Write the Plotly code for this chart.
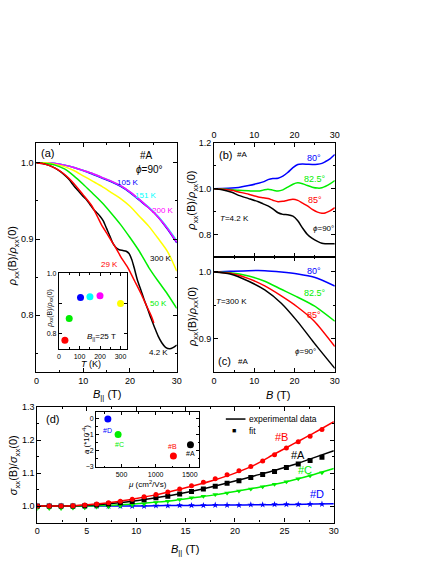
import plotly.graph_objects as go

FONT = 'Liberation Sans, Arial, sans-serif'
W, H = 436, 564

# ---- panel (a): rho(B)/rho(0) vs B at different T ----
b_42k = [0, 2, 4, 5, 6, 7, 8, 9, 10, 10.8, 11.5, 12.2, 13, 13.6, 14.3, 15, 15.7, 16.4, 17, 17.7,
         18.5, 19.2, 19.8, 20.4, 21, 21.6, 22.4, 23, 23.8, 24.5, 25.2, 26, 26.8, 27.6, 28.5, 29.3, 30]
r_42k = [1.000, 0.998, 0.993, 0.989, 0.984, 0.978, 0.970, 0.963, 0.956, 0.951, 0.945, 0.939, 0.934,
         0.930, 0.924, 0.914, 0.904, 0.894, 0.889, 0.886, 0.885, 0.884, 0.881, 0.873, 0.860, 0.846,
         0.832, 0.821, 0.808, 0.796, 0.785, 0.773, 0.764, 0.758, 0.756, 0.758, 0.761]
b_29k = [0, 2, 4, 6, 8, 10, 11.8, 13, 13.9, 15, 16.1, 17, 18.2, 19.6, 21, 22.4, 23.5, 24.5, 25.1]
r_29k = [1.000, 0.998, 0.993, 0.985, 0.973, 0.958, 0.944, 0.930, 0.919, 0.908, 0.897, 0.888, 0.875,
         0.862, 0.845, 0.828, 0.813, 0.800, 0.790]
b_std = [0, 2, 4, 6, 8, 10, 12, 14, 16, 18, 20, 22, 24, 26, 28, 30]
r_50k = [1.000, 0.999, 0.997, 0.992, 0.983, 0.972, 0.960, 0.948, 0.934, 0.919, 0.902, 0.884, 0.863,
         0.845, 0.828, 0.809]
r_300k = [1.000, 1.000, 0.998, 0.995, 0.990, 0.983, 0.976, 0.969, 0.961, 0.953, 0.943, 0.930,
          0.917, 0.901, 0.884, 0.858]
r_105k = [1.000, 1.000, 0.999, 0.997, 0.994, 0.990, 0.985, 0.980, 0.975, 0.969, 0.961, 0.951,
          0.941, 0.929, 0.913, 0.895]
r_151k = [1.000, 1.000, 0.999, 0.997, 0.994, 0.990, 0.986, 0.981, 0.976, 0.970, 0.962, 0.952,
          0.942, 0.930, 0.915, 0.898]
r_200k = [1.000, 1.000, 0.999, 0.997, 0.994, 0.990, 0.986, 0.981, 0.976, 0.970, 0.962, 0.952,
          0.941, 0.929, 0.914, 0.896]

# inset (a): rho(25 T)/rho(0) vs T
inset_t = [29, 50, 105, 151, 200, 300]
inset_r = [0.777, 0.849, 0.919, 0.922, 0.925, 0.899]
inset_c = ['#ff0000', '#00ee00', '#0000ff', '#00ffff', '#ff00ff', '#ffff00']

# ---- panel (b): T = 4.2 K, different angles ----
b_b = [0, 2, 4.4, 6.1, 8.6, 11, 12.2, 13.4, 14.6, 15.9, 17.1, 18.3, 19.6, 20.8, 22, 23.2, 24.4,
       25.7, 26.8, 27.6, 28.8, 30]
b80 = [1.000, 1.001, 1.003, 1.006, 1.014, 1.024, 1.030, 1.040, 1.045, 1.046, 1.055, 1.071, 1.092,
       1.106, 1.108, 1.107, 1.106, 1.107, 1.111, 1.118, 1.131, 1.150]
b825 = [1.000, 0.999, 0.996, 0.993, 0.991, 0.990, 0.994, 0.998, 0.994, 0.990, 0.995, 1.007, 1.020,
        1.026, 1.022, 1.014, 1.007, 1.003, 1.004, 1.010, 1.021, 1.036]
b85 = [1.000, 0.998, 0.993, 0.986, 0.976, 0.964, 0.961, 0.957, 0.950, 0.943, 0.945, 0.950, 0.954,
       0.949, 0.937, 0.925, 0.910, 0.898, 0.893, 0.894, 0.903, 0.917]
b90 = [1.000, 0.996, 0.985, 0.971, 0.957, 0.943, 0.934, 0.925, 0.912, 0.895, 0.888, 0.886, 0.880,
       0.860, 0.828, 0.800, 0.783, 0.770, 0.762, 0.760, 0.759, 0.760]

# ---- panel (c): T = 300 K, different angles ----
b_c = [0, 4, 8.6, 12.6, 16.7, 20.8, 24.9, 30]
c80 = [1.000, 1.001, 1.002, 1.002, 1.000, 0.997, 0.992, 0.979]
c825 = [1.000, 0.999, 0.994, 0.986, 0.974, 0.962, 0.949, 0.926]
c85 = [1.000, 0.998, 0.990, 0.979, 0.964, 0.947, 0.926, 0.888]
c90 = [1.000, 0.997, 0.986, 0.973, 0.953, 0.925, 0.893, 0.855]

# ---- panel (d): sigma(B)/sigma(0), data lines and fit points ----
b_d = [0, 2, 4, 6, 8, 10, 12, 14, 16, 18, 20, 22, 24, 26, 28, 30]
d_b = [1.000, 1.000, 1.002, 1.006, 1.013, 1.023, 1.034, 1.048, 1.063, 1.080, 1.100, 1.125, 1.158,
       1.190, 1.222, 1.256]
d_a = [1.000, 1.000, 1.001, 1.004, 1.009, 1.016, 1.025, 1.035, 1.047, 1.061, 1.076, 1.092, 1.108,
       1.126, 1.147, 1.168]
d_c = [1.000, 1.000, 1.000, 1.001, 1.003, 1.007, 1.012, 1.018, 1.026, 1.034, 1.044, 1.055, 1.066,
       1.080, 1.096, 1.114]
d_d = [1.000, 1.000, 1.000, 1.000, 1.000, 1.000, 1.001, 1.002, 1.002, 1.003, 1.003, 1.004, 1.004,
       1.005, 1.006, 1.007]

b_fit = [0, 1.2, 2.4, 3.6, 4.8, 6.0, 7.2, 8.4, 9.6, 10.8, 12.0, 13.2, 14.4, 15.6, 16.8, 18.0, 19.2,
         20.4, 21.6, 22.8, 24.0, 25.2, 26.4, 27.6, 28.8]
fit_b = [1.000, 1.000, 1.000, 1.001, 1.003, 1.006, 1.010, 1.015, 1.021, 1.028, 1.035, 1.043, 1.052,
         1.062, 1.072, 1.083, 1.095, 1.107, 1.120, 1.137, 1.156, 1.176, 1.195, 1.212, 1.232]
fit_a = [1.000, 1.000, 1.000, 1.000, 1.001, 1.003, 1.006, 1.010, 1.014, 1.019, 1.025, 1.030, 1.037,
         1.044, 1.052, 1.060, 1.069, 1.077, 1.087, 1.096, 1.105, 1.117, 1.128, 1.138, 1.148]
fit_c = [0.993, 0.993, 0.993, 0.994, 0.995, 0.997, 0.998, 1.000, 1.003, 1.006, 1.011, 1.015, 1.020,
         1.025, 1.030, 1.035, 1.040, 1.046, 1.052, 1.059, 1.066, 1.074, 1.083, 1.092, 1.101]
fit_d = [1.000, 1.000, 1.000, 1.000, 1.000, 1.000, 1.000, 1.000, 1.000, 1.000, 1.001, 1.001, 1.002,
         1.002, 1.002, 1.003, 1.003, 1.003, 1.004, 1.004, 1.005, 1.005, 1.005, 1.006, 1.006]

# inset (d): coefficient a vs mobility
mu_vals = [300, 450, 1260, 1510]
a_vals = [-0.05, -1.02, -2.35, -1.65]
mu_names = ['#D', '#C', '#B', '#A']
mu_cols = ['#0000ff', '#00ee00', '#ff0000', '#000000']

BLUE, CYAN, MAG, YEL, GRN, RED, BLK = '#0000ff', '#00ffff', '#ff00ff', '#ffff00', '#00ee00', '#ff0000', '#000000'


def px(x):
    return x / W


def py(y):
    return 1 - y / H


fig = go.Figure()


def line(x, y, color, xa, ya, width=1.5):
    fig.add_trace(go.Scatter(x=x, y=y, mode='lines', xaxis=xa, yaxis=ya, showlegend=False,
                             line=dict(color=color, width=width, shape='spline', smoothing=0.7)))


# (a)
line(b_std, r_105k, BLUE, 'x', 'y')
line(b_std, r_151k, CYAN, 'x', 'y')
line(b_std, r_200k, MAG, 'x', 'y')
line(b_std, r_300k, YEL, 'x', 'y')
line(b_std, r_50k, GRN, 'x', 'y')
line(b_42k, r_42k, BLK, 'x', 'y')
line(b_29k, r_29k, RED, 'x', 'y')

fig.add_trace(go.Scatter(x=inset_t, y=inset_r, mode='markers', xaxis='x2', yaxis='y2', showlegend=False,
                         marker=dict(color=inset_c, size=7)))

# (b)
line(b_b, b80, BLUE, 'x3', 'y3')
line(b_b, b825, GRN, 'x3', 'y3')
line(b_b, b85, RED, 'x3', 'y3')
line(b_b, b90, BLK, 'x3', 'y3')

# (c)
line(b_c, c80, BLUE, 'x4', 'y4')
line(b_c, c825, GRN, 'x4', 'y4')
line(b_c, c85, RED, 'x4', 'y4')
line(b_c, c90, BLK, 'x4', 'y4')

# (d)
for yv, col in [(d_d, BLUE), (d_c, GRN), (d_a, BLK), (d_b, RED)]:
    line(b_d, yv, col, 'x5', 'y5')
for yv, col, sym in [(fit_d, BLUE, 'star'), (fit_c, GRN, 'triangle-down'), (fit_a, BLK, 'square'),
                     (fit_b, RED, 'circle')]:
    fig.add_trace(go.Scatter(x=b_fit, y=yv, mode='markers', xaxis='x5', yaxis='y5', showlegend=False,
                             marker=dict(color=col, symbol=sym, size=5)))

fig.add_trace(go.Scatter(x=mu_vals, y=a_vals, mode='markers', xaxis='x6', yaxis='y6', showlegend=False,
                         marker=dict(color=mu_cols, size=7)))

tickfont = dict(family=FONT, size=9, color='black')
small_tick = dict(family=FONT, size=7, color='black')


def ax(domain, rng, font=tickfont, **kw):
    d = dict(domain=domain, range=rng, showline=True, linecolor='black', linewidth=1.2,
             mirror='ticks', ticks='inside', ticklen=4, tickwidth=1, tickcolor='black',
             showgrid=False, zeroline=False, tickfont=font)
    d.update(kw)
    return d


def minor(dt, ln=2):
    return dict(ticks='inside', ticklen=ln, dtick=dt, tickcolor='black', showgrid=False)


fig.update_layout(
    width=W, height=H,
    margin=dict(l=0, r=0, t=0, b=0),
    paper_bgcolor='white', plot_bgcolor='rgba(0,0,0,0)',
    font=dict(family=FONT, size=10, color='black'),
    showlegend=False,
    xaxis=ax([px(34), px(177)], [0, 30], anchor='y', dtick=10, minor=minor(5)),
    yaxis=ax([py(372), py(140)], [0.726, 1.026], anchor='x', dtick=0.1, tickformat='.1f', minor=minor(0.05)),
    xaxis2=ax([px(57), px(126)], [0, 330], small_tick, anchor='y2', dtick=100, ticklen=3, minor=minor(50, 1.5)),
    yaxis2=ax([py(349), py(272)], [0.748, 1.0], small_tick, anchor='x2', tickvals=[0.8, 0.9, 1.0],
              ticktext=['0.8', '', '1.0'], ticklen=3),
    xaxis3=ax([px(215), px(338)], [0, 30], anchor='y3', side='top', dtick=10, minor=minor(5)),
    yaxis3=ax([py(256), py(140)], [0.7, 1.2], anchor='x3', tickvals=[0.8, 1.0, 1.2], tickformat='.1f',
              minor=minor(0.1)),
    xaxis4=ax([px(215), px(338)], [0, 30], anchor='y4', dtick=10, minor=minor(5)),
    yaxis4=ax([py(372), py(256)], [0.85, 1.022], anchor='x4', tickvals=[0.9, 1.0], tickformat='.1f',
              minor=minor(0.05)),
    xaxis5=ax([px(35), px(337)], [0, 30], anchor='y5', dtick=5, minor=minor(2.5)),
    yaxis5=ax([py(525), py(408)], [0.95, 1.3], anchor='x5', dtick=0.1, tickformat='.1f', minor=minor(0.05)),
    xaxis6=ax([px(95), px(200)], [130, 1640], small_tick, anchor='y6', tickvals=[500, 1000, 1500], ticklen=3,
              minor=minor(250, 1.5)),
    yaxis6=ax([py(469), py(413)], [-3.05, 0.37], small_tick, anchor='x6', dtick=1, ticklen=3,
              minor=minor(0.5, 1.5)),
)

ann = []


def txt(x, y, s, xa, ya, color='black', size=9, xanchor='center'):
    ann.append(dict(x=x, y=y, text=s, xref=xa, yref=ya, showarrow=False, xanchor=xanchor, yanchor='middle',
                    font=dict(family=FONT, size=size, color=color)))


def ptxt(x, y, s, size=11, angle=0, xanchor='center'):
    ann.append(dict(x=px(x), y=py(y), text=s, xref='paper', yref='paper', showarrow=False,
                    textangle=angle, xanchor=xanchor, yanchor='middle',
                    font=dict(family=FONT, size=size, color='black')))


rho = '<i>ρ</i><sub>xx</sub>(B)/<i>ρ</i><sub>xx</sub>(0)'
sig = '<i>σ</i><sub>xx</sub>(B)/<i>σ</i><sub>xx</sub>(0)'
bpar = '<i>B</i><sub>||</sub> (T)'

# axis titles
ptxt(11, 255, rho, 11, -90)
ptxt(193, 198, rho, 11, -90)
ptxt(193, 316, rho, 11, -90)
ptxt(12, 467, sig, 11, -90)
ptxt(106, 396, bpar, 11)
ptxt(280, 396, '<i>B</i> (T)', 11)
ptxt(185, 553, bpar, 11)
ptxt(90, 364, '<i>T</i> (K)', 9)
ptxt(47, 308, rho, 7, -90)
ptxt(147, 486, '<i>μ</i> (cm<sup>2</sup>/Vs)', 8)
ptxt(84, 441, '<i>a</i> (*10<sup>-4</sup>)', 8, -90)

# legend of (d)
fig.add_shape(type='line', xref='paper', yref='paper', x0=px(227), x1=px(247), y0=py(420), y1=py(420),
              line=dict(color='black', width=1.5))
ptxt(249, 420, 'experimental data', 8.5, xanchor='left')
ptxt(235, 432, '■', 7)
ptxt(249, 432, 'fit', 8.5, xanchor='left')

# (a) labels
txt(2.3, 1.013, '(a)', 'x', 'y', size=11)
txt(23.5, 1.009, '#A', 'x', 'y', size=10)
txt(24.1, 0.991, '<i>ϕ</i>=90°', 'x', 'y', size=10)
txt(19.6, 0.974, '105 K', 'x', 'y', BLUE, 8)
txt(23.5, 0.957, '151 K', 'x', 'y', CYAN, 8)
txt(27.0, 0.938, '200 K', 'x', 'y', MAG, 8)
txt(26.6, 0.874, '300 K', 'x', 'y', BLK, 8)
txt(15.6, 0.867, '29 K', 'x', 'y', RED, 8)
txt(26.2, 0.815, '50 K', 'x', 'y', GRN, 8)
txt(26.0, 0.751, '4.2 K', 'x', 'y', BLK, 8)
txt(208, 0.787, '<i>B</i><sub>||</sub>=25 T', 'x2', 'y2', size=8)

# (b) labels
txt(2.9, 1.149, '(b)', 'x3', 'y3', size=11)
txt(7.0, 1.149, '#A', 'x3', 'y3', size=8)
txt(24.9, 1.136, '80°', 'x3', 'y3', BLUE, 9)
txt(25.2, 1.042, '82.5°', 'x3', 'y3', GRN, 9)
txt(25.2, 0.952, '85°', 'x3', 'y3', RED, 9)
txt(5.1, 0.870, '<i>T</i>=4.2 K', 'x3', 'y3', size=8)
txt(27.3, 0.827, '<i>ϕ</i>=90°', 'x3', 'y3', size=8)

# (c) labels
txt(24.9, 1.001, '80°', 'x4', 'y4', BLUE, 9)
txt(25.2, 0.969, '82.5°', 'x4', 'y4', GRN, 9)
txt(24.9, 0.936, '85°', 'x4', 'y4', RED, 9)
txt(4.4, 0.956, '<i>T</i>=300 K', 'x4', 'y4', size=8)
txt(22.7, 0.880, '<i>ϕ</i>=90°', 'x4', 'y4', size=8)
txt(2.7, 0.866, '(c)', 'x4', 'y4', size=11)
txt(7.1, 0.866, '#A', 'x4', 'y4', size=8)

# (d) labels
txt(1.5, 1.265, '(d)', 'x5', 'y5', size=11)
txt(24.7, 1.211, '#B', 'x5', 'y5', RED, 11)
txt(26.4, 1.154, '#A', 'x5', 'y5', BLK, 11)
txt(27.1, 1.109, '#C', 'x5', 'y5', GRN, 11)
txt(28.3, 1.037, '#D', 'x5', 'y5', BLUE, 11)
for mu, a, nm, col, dx, dy in zip(mu_vals, a_vals, mu_names, mu_cols, [0, 20, -10, 0], [-0.7, -0.62, 0.58, -0.55]):
    txt(mu + dx, a + dy, nm, 'x6', 'y6', col, 7)

fig.update_layout(annotations=ann)
fig.write_html('out.html', config={'displayModeBar': False},
               post_script="document.body.style.margin='0px';")
